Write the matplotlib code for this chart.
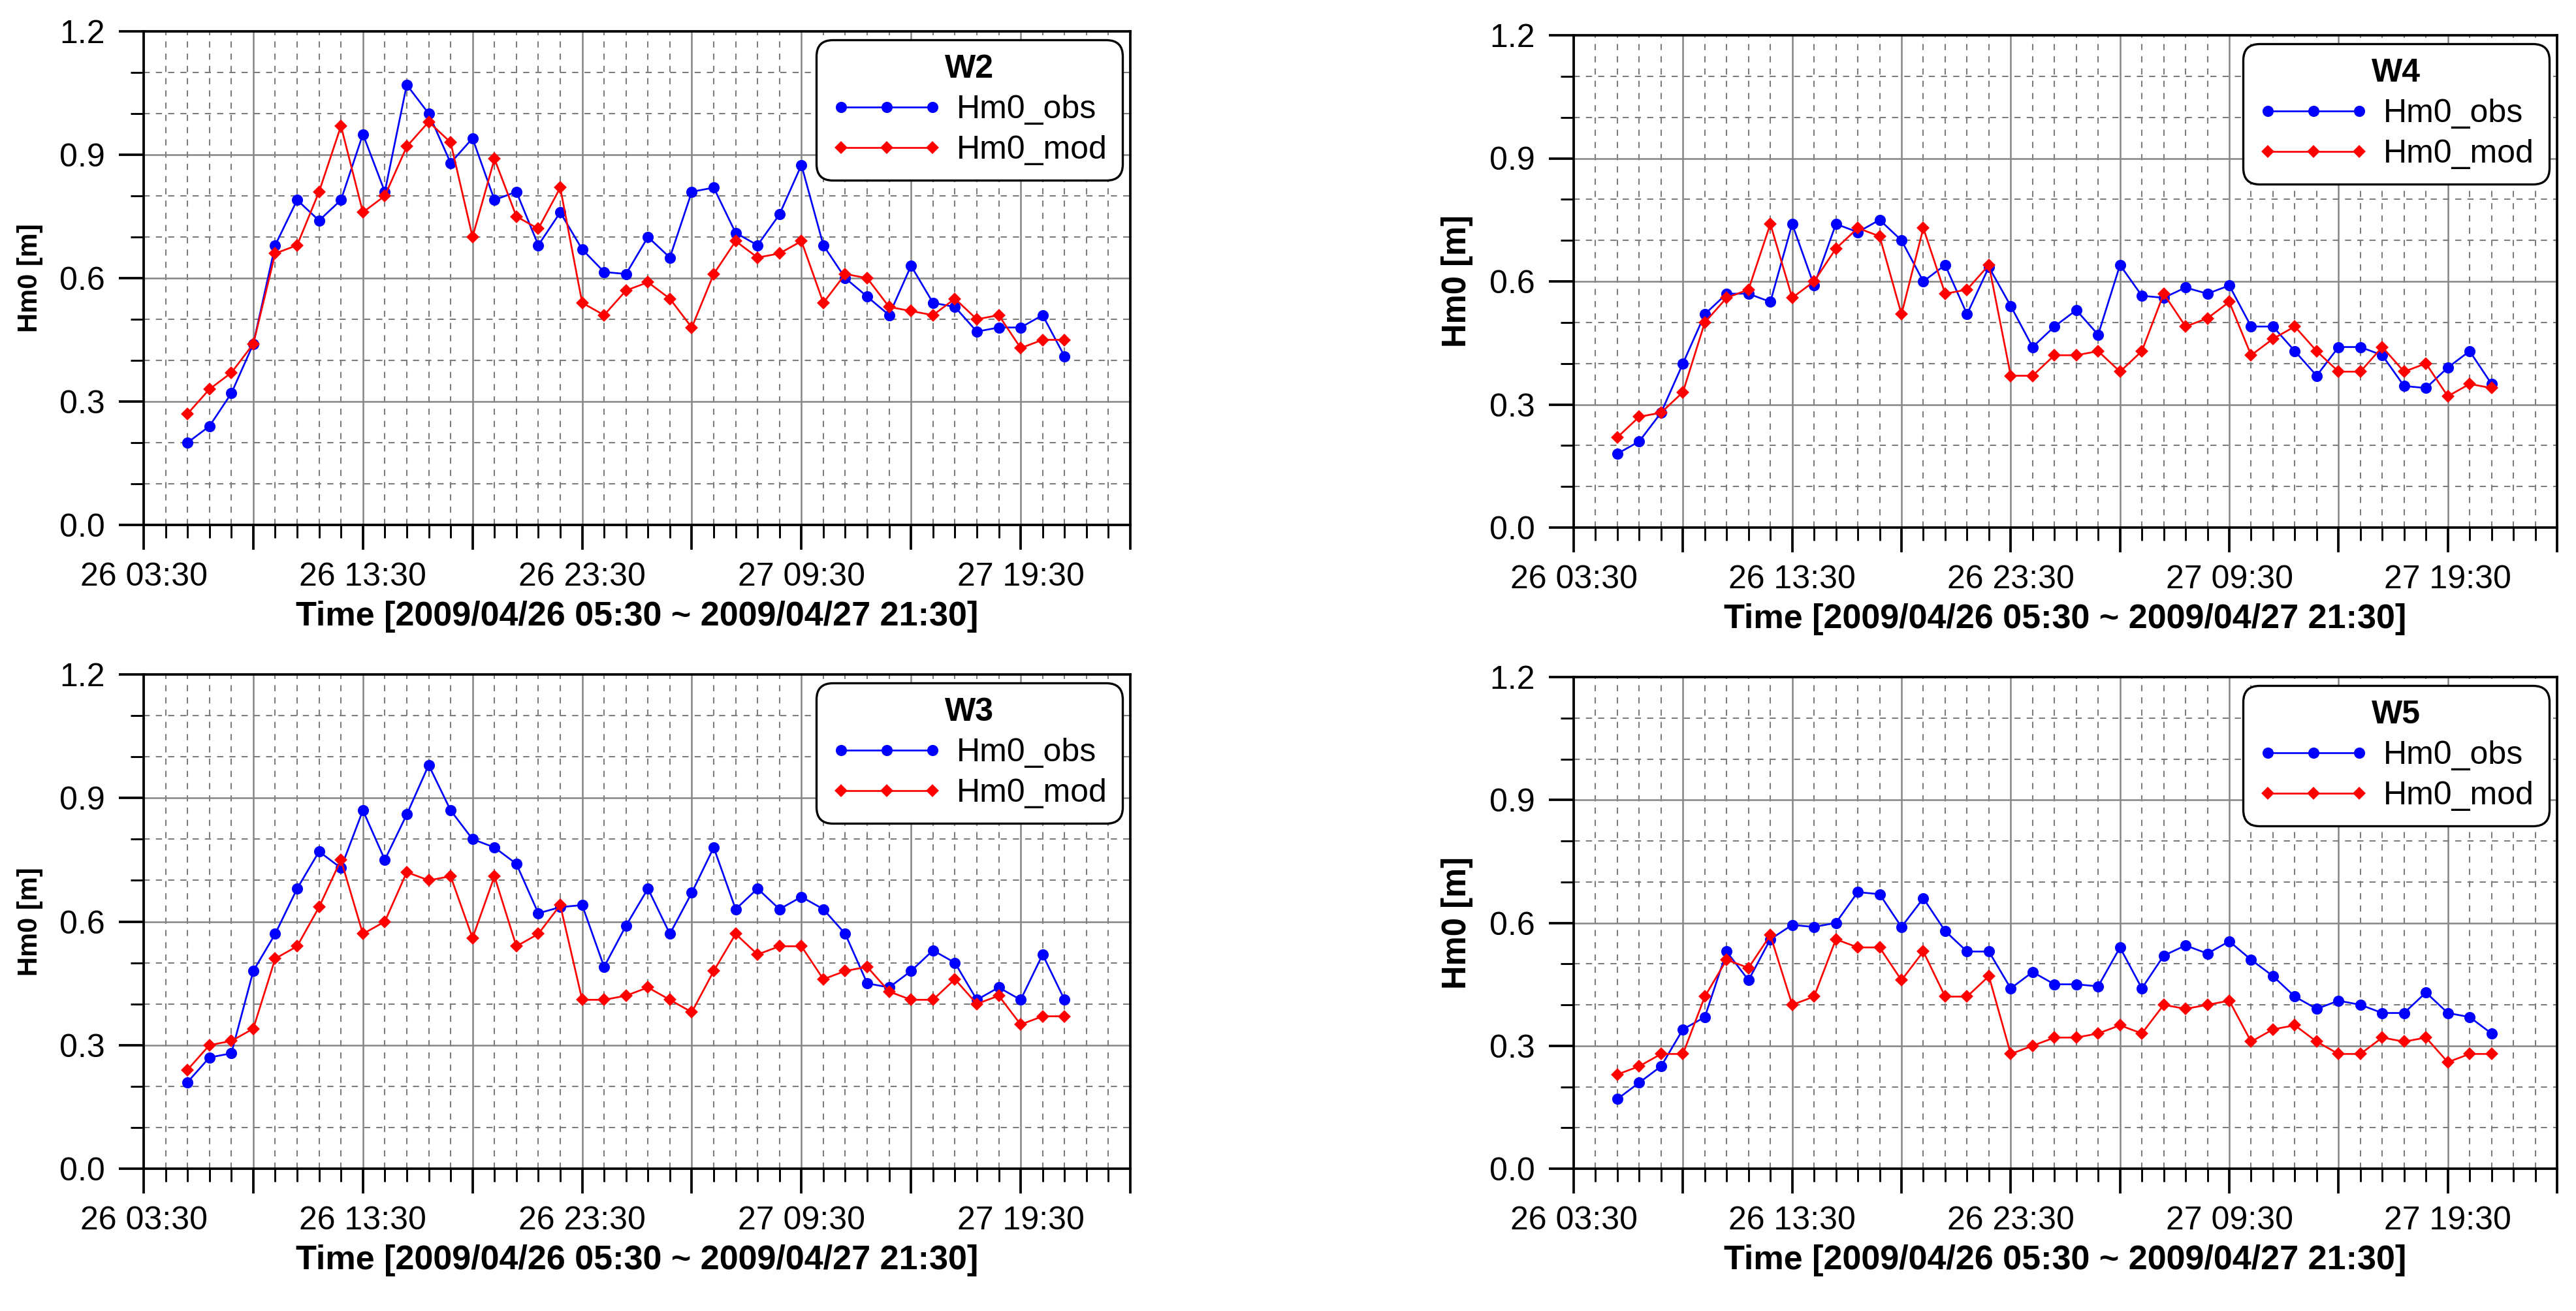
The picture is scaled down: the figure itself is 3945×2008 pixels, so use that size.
import numpy as np
import pandas as pd
import matplotlib
matplotlib.use('Agg')
import matplotlib.pyplot as plt
from matplotlib.ticker import FixedLocator, FixedFormatter, MultipleLocator
import matplotlib.dates as mdates

plt.rcParams['font.family'] = ['Liberation Sans', 'DejaVu Sans']

# ---------------- data ----------------
times = pd.date_range('2009-04-26 05:30', '2009-04-27 21:30', freq='h')

w2_obs = [0.20, 0.24, 0.32, 0.44, 0.68, 0.79, 0.74, 0.79, 0.95, 0.81, 1.07, 1.00, 0.88, 0.94,
          0.79, 0.81, 0.68, 0.76, 0.67, 0.615, 0.61, 0.70, 0.65, 0.81, 0.82, 0.71, 0.68, 0.755,
          0.875, 0.68, 0.60, 0.555, 0.51, 0.63, 0.54, 0.53, 0.47, 0.48, 0.48, 0.51, 0.41]
w2_mod = [0.27, 0.33, 0.37, 0.44, 0.66, 0.68, 0.81, 0.97, 0.76, 0.80, 0.92, 0.98, 0.93, 0.70,
          0.89, 0.75, 0.72, 0.82, 0.54, 0.51, 0.57, 0.59, 0.55, 0.48, 0.61, 0.69, 0.65, 0.66,
          0.69, 0.54, 0.61, 0.60, 0.53, 0.52, 0.51, 0.55, 0.50, 0.51, 0.43, 0.45, 0.45]

w3_obs = [0.21, 0.27, 0.28, 0.48, 0.57, 0.68, 0.77, 0.73, 0.87, 0.75, 0.86, 0.98, 0.87, 0.80,
          0.78, 0.74, 0.62, 0.635, 0.64, 0.49, 0.59, 0.68, 0.57, 0.67, 0.78, 0.63, 0.68, 0.63,
          0.66, 0.63, 0.57, 0.45, 0.44, 0.48, 0.53, 0.50, 0.41, 0.44, 0.41, 0.52, 0.41]
w3_mod = [0.24, 0.30, 0.31, 0.34, 0.51, 0.54, 0.635, 0.75, 0.57, 0.60, 0.72, 0.70, 0.71, 0.56,
          0.71, 0.54, 0.57, 0.64, 0.41, 0.41, 0.42, 0.44, 0.41, 0.38, 0.48, 0.57, 0.52, 0.54,
          0.54, 0.46, 0.48, 0.49, 0.43, 0.41, 0.41, 0.46, 0.40, 0.42, 0.35, 0.37, 0.37]

w4_obs = [0.18, 0.21, 0.28, 0.40, 0.52, 0.57, 0.57, 0.55, 0.74, 0.59, 0.74, 0.72, 0.75, 0.70,
          0.60, 0.64, 0.52, 0.635, 0.54, 0.44, 0.49, 0.53, 0.47, 0.64, 0.565, 0.56, 0.585, 0.57,
          0.59, 0.49, 0.49, 0.43, 0.37, 0.44, 0.44, 0.42, 0.345, 0.34, 0.39, 0.43, 0.35]
w4_mod = [0.22, 0.27, 0.28, 0.33, 0.50, 0.56, 0.58, 0.74, 0.56, 0.60, 0.68, 0.73, 0.71, 0.52,
          0.73, 0.57, 0.58, 0.64, 0.37, 0.37, 0.42, 0.42, 0.43, 0.38, 0.43, 0.57, 0.49, 0.51,
          0.55, 0.42, 0.46, 0.49, 0.43, 0.38, 0.38, 0.44, 0.38, 0.40, 0.32, 0.35, 0.34]

w5_obs = [0.17, 0.21, 0.25, 0.34, 0.37, 0.53, 0.46, 0.56, 0.595, 0.59, 0.60, 0.675, 0.67, 0.59,
          0.66, 0.58, 0.53, 0.53, 0.44, 0.48, 0.45, 0.45, 0.445, 0.54, 0.44, 0.52, 0.545, 0.525,
          0.555, 0.51, 0.47, 0.42, 0.39, 0.41, 0.40, 0.38, 0.38, 0.43, 0.38, 0.37, 0.33]
w5_mod = [0.23, 0.25, 0.28, 0.28, 0.42, 0.51, 0.49, 0.57, 0.40, 0.42, 0.56, 0.54, 0.54, 0.46,
          0.53, 0.42, 0.42, 0.47, 0.28, 0.30, 0.32, 0.32, 0.33, 0.35, 0.33, 0.40, 0.39, 0.40,
          0.41, 0.31, 0.34, 0.35, 0.31, 0.28, 0.28, 0.32, 0.31, 0.32, 0.26, 0.28, 0.28]

stations = ['W2', 'W3', 'W4', 'W5']
obs_series = [w2_obs, w3_obs, w4_obs, w5_obs]
mod_series = [w2_mod, w3_mod, w4_mod, w5_mod]
ylabel_sizes = [10, 10, 12.2, 12.2]

x_start = pd.Timestamp('2009-04-26 03:30')
x_end = pd.Timestamp('2009-04-28 00:30')
y_major = [0.0, 0.3, 0.6, 0.9, 1.2]

# ---------------- figure ----------------
W, H = 3945, 2008
fig = plt.figure(figsize=(W / 300, H / 300), dpi=300)

def rect(left, top, w, h):
    return [left / W, 1 - (top + h) / H, w / W, h / H]

positions = [rect(220, 48, 1511, 756), rect(220, 1033, 1511, 757),
             rect(2410, 54, 1506, 754), rect(2410, 1037, 1506, 753)]

major_times = pd.date_range(x_start, x_end, freq='5h')
minor_times = pd.date_range(x_start, x_end, freq='h')
major_labels = [t.strftime('%d %H:%M') if i % 2 == 0 else '' for i, t in enumerate(major_times)]

for name, obs, mod, pos, ylsz in zip(stations, obs_series, mod_series, positions, ylabel_sizes):
    ax = fig.add_axes(pos)
    ax.plot(times, obs, color='#0000ff', lw=0.65, marker='o', ms=3.1, label='Hm0_obs', zorder=4)
    ax.plot(times, mod, color='#ff0000', lw=0.65, marker='D', ms=2.3, label='Hm0_mod', zorder=5)

    ax.set_xlim(mdates.date2num(x_start), mdates.date2num(x_end))
    ax.set_ylim(0, 1.2)
    ax.xaxis.set_major_locator(FixedLocator(mdates.date2num(major_times)))
    ax.xaxis.set_major_formatter(FixedFormatter(major_labels))
    ax.xaxis.set_minor_locator(FixedLocator(mdates.date2num(minor_times)))
    ax.yaxis.set_major_locator(FixedLocator(y_major))
    ax.yaxis.set_major_formatter(FixedFormatter(['%.1f' % v for v in y_major]))
    ax.yaxis.set_minor_locator(MultipleLocator(0.1))

    ax.grid(which='major', color='#858585', lw=0.6, ls='-', zorder=1)
    ax.grid(which='minor', color='#7c7c7c', lw=0.5, ls=(0, (4.5, 4.5)), zorder=1)
    ax.set_axisbelow(True)

    ax.tick_params(which='major', direction='out', length=9.2, width=0.9, pad=4.5,
                   labelsize=12, top=False, right=False)
    ax.tick_params(which='minor', direction='out', length=4.8, width=0.7, top=False, right=False)
    ax.tick_params(axis='y', which='major', pad=5)
    for s in ax.spines.values():
        s.set_linewidth(0.9)

    ax.set_xlabel('Time [2009/04/26 05:30 ~ 2009/04/27 21:30]', fontsize=12.5,
                  fontweight='bold', labelpad=3)
    ax.set_ylabel('Hm0 [m]', fontsize=ylsz, fontweight='bold', labelpad=6)

    leg = ax.legend(title=name, loc='upper right', fontsize=12, numpoints=3,
                    title_fontproperties={'weight': 'bold', 'size': 12},
                    handlelength=3.4, handletextpad=0.45, borderpad=0.45,
                    labelspacing=0.32, borderaxespad=0.25, frameon=True,
                    fancybox=True, framealpha=1, edgecolor='black')
    fr = leg.get_frame()
    fr.set_linewidth(0.8)
    fr.set_boxstyle('round,pad=0,rounding_size=0.5')
    leg.set_zorder(10)

fig.savefig('out.png', dpi=300)
